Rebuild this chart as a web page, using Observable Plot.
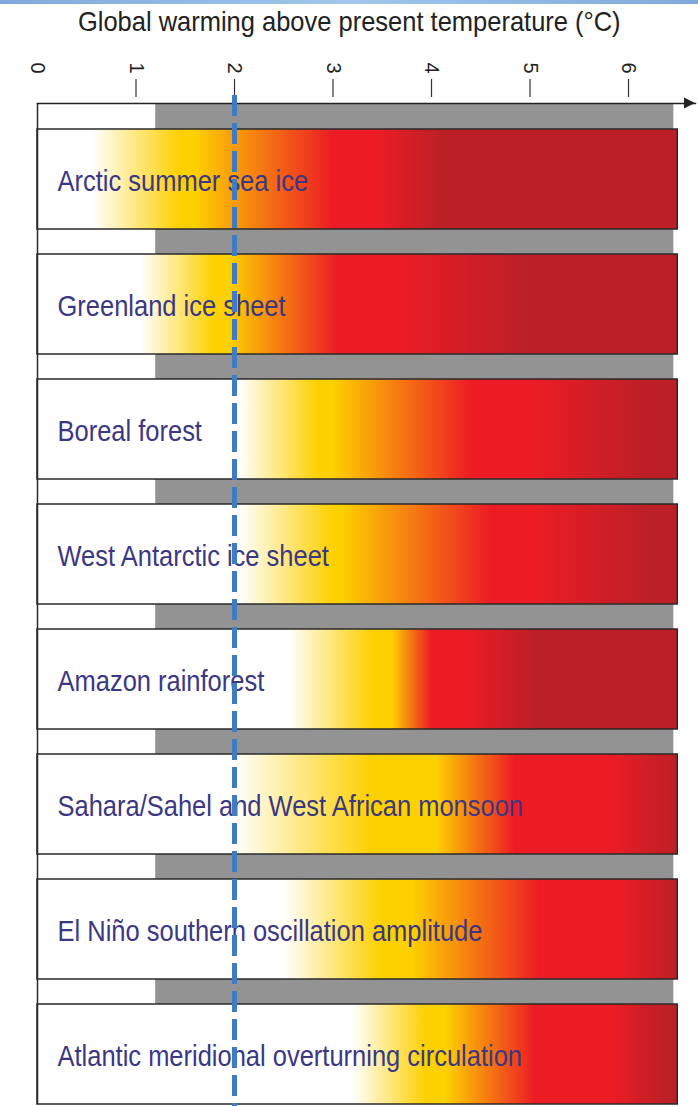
<!DOCTYPE html>
<html><head><meta charset="utf-8">
<script src="https://cdn.jsdelivr.net/npm/d3@7"></script>
<script src="https://cdn.jsdelivr.net/npm/@observablehq/plot@0.6"></script>
<style>
body{margin:0;background:#fff;width:698px;overflow:hidden}
#strip{height:4px;background:linear-gradient(to right,#7eaadb,#a3c6ec 50%,#7eaadb)}
#title{height:36px;line-height:36px;text-align:center;font-family:"Liberation Sans Narrow","Arial Narrow","Liberation Sans",sans-serif;font-size:28px;color:#222;transform:scaleX(0.91);transform-origin:352px 50%}
</style></head><body>
<div id="strip"></div>
<div id="title">Global warming above present temperature (°C)</div>
<div id="chart"></div>
<script>
// Tipping elements (top to bottom)
const elements = [
  "Arctic summer sea ice",
  "Greenland ice sheet",
  "Boreal forest",
  "West Antarctic ice sheet",
  "Amazon rainforest",
  "Sahara/Sahel and West African monsoon",
  "El Niño southern oscillation amplitude",
  "Atlantic meridional overturning circulation"
];
// Warming (°C) where the colour gradient reaches each stage
const whiteEnd  = [0.56, 1.05, 2.05, 2.05, 2.55, 2.0, 2.5, 3.2];
const yellowAt  = [1.45, 1.8, 2.85, 3.0, 3.4, 3.4, 3.5, 3.95];
const yellowEnd = [1.6, 1.95, 3.0, 3.1, 3.6, 4.05, 3.8, 4.15];
const redAt     = [3.0, 3.05, 4.4, 4.6, 4.0, 4.85, 5.1, 5.05];
const redEnd    = [3.45, 3.6, 5.0, 5.05, 4.35, 5.8, 5.9, 5.8];
const darkAt    = [4.1, 4.95, 6.15, 6.2, 5.05, 6.6, 6.6, 6.4];
const xTicks = [0, 1, 2, 3, 4, 5, 6];
const barEnd = 6.5;
const greyStart = 1.2;
const greyEnd = 6.46;
const axisEnd = 6.68;
const threshold = 2;

const colours = {white: "#ffffff", yellow: "#fdd000", red: "#ed1c24", dark: "#bd1f27"};

const rows = elements.map((name, i) => ({name, start: 0, end: barEnd, grad: `url(#grad${i})`}));
const greyBand = [{x1: greyStart, x2: greyEnd}];

const font = "'Liberation Sans Narrow','Arial Narrow','Liberation Sans',sans-serif";

const svg = Plot.plot({
  width: 698,
  height: 1066,
  marginTop: 63,
  marginLeft: 37,
  marginRight: 3,
  marginBottom: 2,
  style: {fontFamily: font, overflow: "visible", background: "transparent"},
  x: {domain: [0, axisEnd]},
  y: {domain: elements, paddingInner: 0.2, paddingOuter: 0.1, align: 1, axis: null},
  color: {type: "identity"},
  marks: [
    Plot.rect(greyBand, {x1: "x1", x2: "x2", fill: "#939393"}),
    Plot.barX(rows, {x1: "start", x2: "end", y: "name", fill: "grad", stroke: "#2a2a2a", strokeWidth: 1.5}),
    Plot.ruleX([0], {stroke: "#2a2a2a", strokeWidth: 1.5}),
    Plot.text(rows, {x: "start", y: "name", text: "name", textAnchor: "start", dx: 20, dy: 2, fill: "#3b3783", fontSize: 26, fontFamily: font, className: "rowlabel"}),
    Plot.frame({anchor: "top", stroke: "#222", strokeWidth: 1.5}),
    Plot.axisX({anchor: "top", ticks: xTicks, tickFormat: d3.format("d"), tickSize: 0, tickPadding: 30, tickRotate: 90, fontSize: 20, label: null, fill: "#222"}),
    Plot.axisX({anchor: "top", ticks: xTicks.filter(t => t > 0), tickSize: 18, tickFormat: () => "", dy: -7, label: null, stroke: "#333", strokeWidth: 1.2}),
    Plot.ruleX([threshold], {stroke: "#3f7cc2", strokeWidth: 5, strokeDasharray: "21,7", insetTop: -8, insetBottom: -4})
  ]
});

// gradient definitions, offsets from the data through the bar extent
const defs = d3.select(svg).insert("defs", ":first-child");
elements.forEach((name, i) => {
  const g = defs.append("linearGradient").attr("id", `grad${i}`).attr("x1", 0).attr("x2", 1).attr("y1", 0).attr("y2", 0);
  const stops = [
    [0, colours.white], [whiteEnd[i], colours.white], [yellowAt[i], colours.yellow], [yellowEnd[i], colours.yellow],
    [redAt[i], colours.red], [redEnd[i], colours.red], [darkAt[i], colours.dark], [barEnd, colours.dark]
  ];
  stops.forEach(([v, c]) => g.append("stop").attr("offset", Math.min(1, v / barEnd)).attr("stop-color", c));
});

// arrowhead at the end of the axis line, positioned with Plot's x scale
const xs = svg.scale("x");
const xa = xs.apply(axisEnd);
d3.select(svg).append("path")
  .attr("d", `M${xa},63 L${xa - 11},57.5 L${xa - 11},68.5 Z`)
  .attr("fill", "#222");

document.getElementById("chart").appendChild(svg);

// emulate the condensed typeface: taller glyphs at a slightly shorter line length
d3.select(svg).selectAll("g.rowlabel text").each(function() {
  const w = this.getComputedTextLength();
  this.style.fontSize = "29px";
  this.setAttribute("textLength", w * 0.98);
  this.setAttribute("lengthAdjust", "spacingAndGlyphs");
});
</script>
</body></html>
